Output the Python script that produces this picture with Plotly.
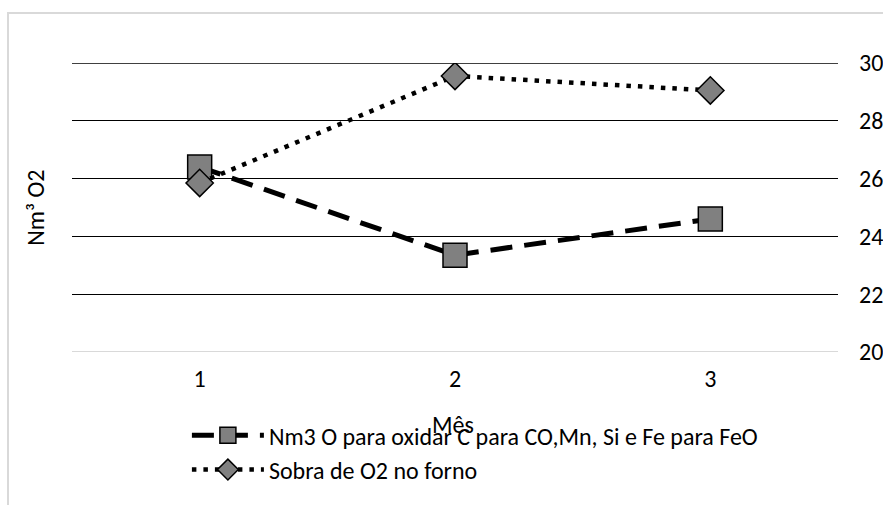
import plotly.graph_objects as go

meses = ["1", "2", "3"]
nm3_oxidar = [26.4, 23.35, 24.6]
sobra_o2 = [25.85, 29.55, 29.05]
y_ticks = [20, 22, 24, 26, 28, 30]
serie1_nome = "Nm3 O para oxidar C para CO,Mn, Si e Fe para FeO"
serie2_nome = "Sobra de O2 no forno"

FONT = "Carlito, Calibri, Lato, sans-serif"
FS = 24

fig = go.Figure()
fig.add_trace(go.Scatter(
    x=meses, y=nm3_oxidar, name=serie1_nome, mode="lines+markers",
    line=dict(color="black", width=5, dash="22px,12px"),
    marker=dict(symbol="square", size=24, color="#808080",
                line=dict(color="black", width=1.5)),
))
fig.add_trace(go.Scatter(
    x=meses, y=sobra_o2, name=serie2_nome, mode="lines+markers",
    line=dict(color="black", width=4.5, dash="4.5px,7px"),
    marker=dict(symbol="diamond", size=21, color="#808080",
                line=dict(color="black", width=1.5)),
))

fig.update_layout(
    width=883, height=505,
    margin=dict(l=72, r=45, t=63, b=153, autoexpand=False),
    paper_bgcolor="white", plot_bgcolor="white",
    font=dict(family=FONT, size=FS, color="black"),
    showlegend=True,
    legend=dict(x=0.150, y=-0.212, xanchor="left", yanchor="top",
                font=dict(family=FONT, size=FS, color="black"),
                tracegroupgap=14, itemwidth=72, bgcolor="rgba(0,0,0,0)"),
    xaxis=dict(type="category", range=[-0.5, 2.5], showgrid=False,
               showline=False, zeroline=False, ticks="", automargin=False,
               tickfont=dict(size=FS), ticklabelstandoff=10),
    yaxis=dict(side="right", range=[20, 30], tickvals=y_ticks,
               showgrid=True, gridcolor="black", gridwidth=1.3,
               zeroline=False, showline=False, ticks="", automargin=False,
               tickfont=dict(size=FS), ticklabelstandoff=20),
    annotations=[
        dict(text="Nm³ O2", xref="paper", yref="paper", x=-0.048, y=0.5,
             textangle=-90, showarrow=False, font=dict(size=FS),
             xanchor="center", yanchor="middle"),
        dict(text="Mês", xref="paper", yref="paper", x=0.497, y=-0.25,
             showarrow=False, font=dict(size=FS),
             xanchor="center", yanchor="middle"),
    ],
    shapes=[
        dict(type="line", xref="paper", yref="y", x0=0, x1=1,
             y0=y_ticks[-1], y1=y_ticks[-1],
             line=dict(color="black", width=1.3), layer="below"),
        dict(type="line", xref="paper", yref="y", x0=0, x1=1,
             y0=y_ticks[0], y1=y_ticks[0],
             line=dict(color="#d9d9d9", width=2), layer="above"),
        dict(type="rect", xref="paper", yref="paper",
             x0=-64/766, x1=1.2, y0=(352-13)/289, y1=-1,
             line=dict(color="#d9d9d9", width=2), layer="below"),
    ],
)

fig.write_html("out.html")
